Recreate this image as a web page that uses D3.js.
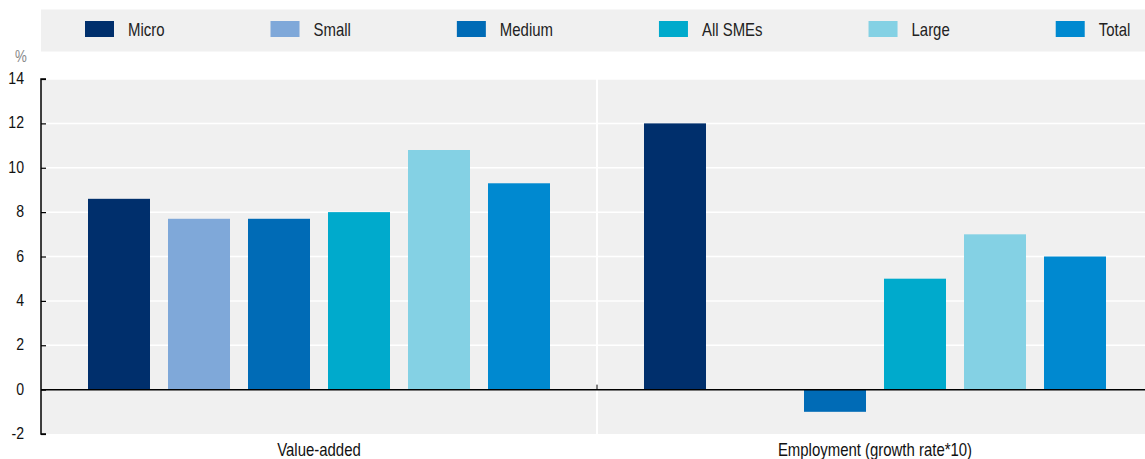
<!DOCTYPE html>
<html>
<head>
<meta charset="utf-8">
<script src="https://cdn.jsdelivr.net/npm/d3@7"></script>
<style>
  html, body { margin: 0; padding: 0; background: #fff; }
  svg { display: block; font-family: "Liberation Sans", Arial, sans-serif; }
</style>
</head>
<body>
<svg id="chart" width="1145" height="459"></svg>
<script>
const categories = ["Value-added", "Employment (growth rate*10)"];
const seriesNames = ["Micro", "Small", "Medium", "All SMEs", "Large", "Total"];
const seriesColors = ["#002f6c", "#7fa8d9", "#006bb6", "#00aacc", "#84d1e4", "#0089d0"];
const valueAdded = [8.6, 7.7, 7.7, 8.0, 10.8, 9.3];
const employment = [12.0, null, -1.0, 5.0, 7.0, 6.0];
const yTicks = [-2, 0, 2, 4, 6, 8, 10, 12, 14];
const yUnit = "%";

const seriesValues = [valueAdded, employment];

const svg = d3.select("#chart");
const W = 1145, H = 459;
const plot = { left: 41, right: 1153, top: 79, bottom: 434 };
const SX = 0.83; // horizontal condensation to mimic a narrow typeface

function condensedText(sel, x, y) {
  return sel.attr("transform", `translate(${x},${y}) scale(${SX},1)`);
}

// Legend background
svg.append("rect").attr("x", 41).attr("y", 9.5).attr("width", W - 41).attr("height", 42).attr("fill", "#f0f0f0");

// Legend items laid out by text width
const legend = svg.append("g");
let lx = 85;
seriesNames.forEach((name, i) => {
  const g = legend.append("g");
  g.append("rect").attr("x", lx).attr("y", 21).attr("width", 29).attr("height", 16).attr("fill", seriesColors[i]);
  const t = g.append("text").attr("font-size", 18).attr("fill", "#222").text(name);
  condensedText(t, lx + 43, 35.5);
  const w = t.node().getComputedTextLength() * SX;
  lx = lx + 43 + w + 106;
});

// Scales
const y = d3.scaleLinear().domain([-2, 14]).range([plot.bottom, plot.top]);
const x0 = d3.scaleBand().domain(categories).range([plot.left, plot.right]).padding(0);
const x1 = d3.scaleBand().domain(seriesNames).range([0, x0.bandwidth()]).paddingInner(0.225).paddingOuter(0.5875);

// Plot background
svg.append("rect").attr("x", plot.left).attr("y", plot.top)
  .attr("width", plot.right - plot.left).attr("height", plot.bottom - plot.top).attr("fill", "#f0f0f0");

// Gridlines
svg.append("g").selectAll("line").data(yTicks.filter(d => d !== 0 && d !== -2)).join("line")
  .attr("x1", plot.left).attr("x2", plot.right)
  .attr("y1", d => y(d)).attr("y2", d => y(d))
  .attr("stroke", "#fff").attr("stroke-width", 1.5);

// Vertical separators between categories
svg.append("g").selectAll("line").data(categories.slice(1)).join("line")
  .attr("x1", d => x0(d)).attr("x2", d => x0(d))
  .attr("y1", plot.top).attr("y2", plot.bottom)
  .attr("stroke", "#fff").attr("stroke-width", 2);

// Bars
const groups = svg.append("g").selectAll("g").data(categories).join("g")
  .attr("transform", d => `translate(${x0(d)},0)`);
groups.selectAll("rect")
  .data((c, ci) => seriesNames.map((s, si) => ({ s, si, v: seriesValues[ci][si] })).filter(d => d.v !== null))
  .join("rect")
  .attr("x", d => x1(d.s))
  .attr("width", x1.bandwidth())
  .attr("y", d => y(Math.max(0, d.v)))
  .attr("height", d => Math.abs(y(d.v) - y(0)))
  .attr("fill", d => seriesColors[d.si]);

// Zero line
svg.append("line").attr("x1", plot.left).attr("x2", plot.right)
  .attr("y1", y(0)).attr("y2", y(0)).attr("stroke", "#000").attr("stroke-width", 1.5);

// Category ticks at zero line
svg.append("g").selectAll("line").data(categories.slice(1)).join("line")
  .attr("x1", d => x0(d)).attr("x2", d => x0(d))
  .attr("y1", y(0)).attr("y2", y(0) - 5)
  .attr("stroke", "#000").attr("stroke-width", 1);

// Y axis
const yAxis = d3.axisRight(y).tickValues(yTicks).tickSize(5).tickFormat("");
const ya = svg.append("g").attr("transform", `translate(${plot.left},0)`).call(yAxis);
ya.select(".domain").attr("d", `M5,${plot.top}H0V${plot.bottom}H5`).attr("stroke", "#000").attr("stroke-width", 1.5).attr("fill", "none");
ya.selectAll(".tick line").attr("stroke", "#000").attr("stroke-width", 1.2);

// Y tick labels
svg.append("g").selectAll("text").data(yTicks).join("text")
  .attr("text-anchor", "end").attr("font-size", 17).attr("fill", "#111")
  .attr("transform", d => `translate(24,${y(d) + 5}) scale(${SX},1)`)
  .text(d => d);

// Unit label
condensedText(svg.append("text")
  .attr("text-anchor", "middle").attr("font-size", 16).attr("fill", "#888").text(yUnit), 21, 62);

// Category labels
svg.append("g").selectAll("text").data(categories).join("text")
  .attr("text-anchor", "middle").attr("font-size", 18).attr("fill", "#111")
  .attr("transform", d => `translate(${x0(d) + x0.bandwidth() / 2},456) scale(${SX},1)`)
  .text(d => d);
</script>
</body>
</html>
